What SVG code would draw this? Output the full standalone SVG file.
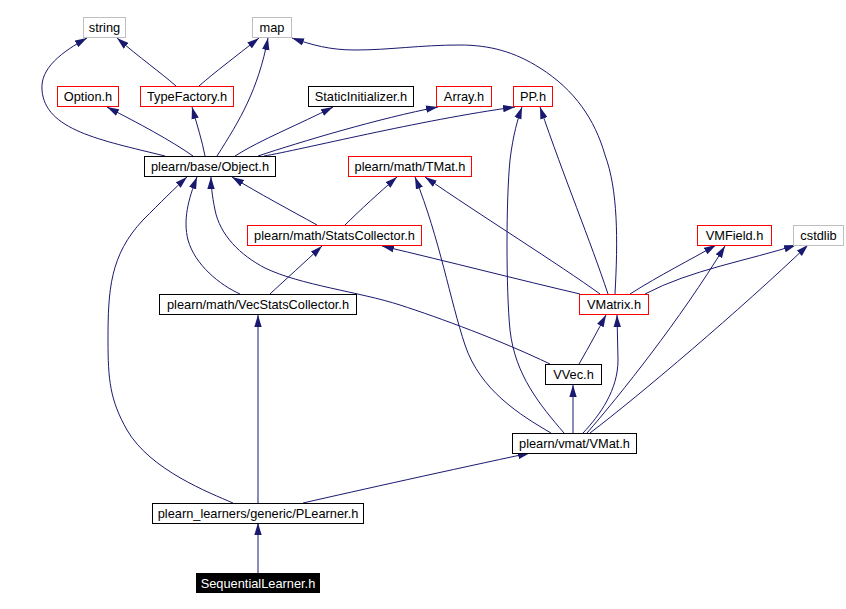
<svg xmlns="http://www.w3.org/2000/svg" width="846" height="609" viewBox="0 0 846 609">
<defs>
<style>
.n rect{fill:#fff;stroke-width:1}
.k rect{stroke:#000}
.r rect{stroke:#ff0000}
.g rect{stroke:#bfbfbf}
text{font-family:"Liberation Sans",Arial,Helvetica,sans-serif;font-size:12.8px;text-anchor:middle;fill:#000}
.e path{fill:none;stroke:#191970;stroke-width:1;marker-end:url(#a)}
</style>
<marker id="a" markerWidth="12" markerHeight="8" refX="12" refY="4" orient="auto" markerUnits="userSpaceOnUse"><path d="M0,0.3 L12,4 L0,7.7 z" fill="#191970"/></marker>
</defs>
<rect width="846" height="609" fill="#fff"/>
<g id="edges" class="e">
<path d="M165,156 C100,140 45,130 42,90 C40,68 62,52 87,38"/>
<path d="M176,86 C160,72 140,58 117,38"/>
<path d="M199,86 C215,72 235,57 259,38"/>
<path d="M217,156 C240,120 258,90 268,38"/>
<path d="M615,294 C618,240 618,190 605,155 C595,120 575,90 540,68 C515,52 490,45 460,45 C420,45 390,50 355,50 C330,50 312,45 292,38"/>
<path d="M193,156 C170,140 140,124 107,107"/>
<path d="M205,156 C202,140 197,125 192,107"/>
<path d="M235,156 C260,140 300,124 333,107"/>
<path d="M258,156 C300,142 380,118 438,107"/>
<path d="M264,156 C300,150 420,120 515,107"/>
<path d="M317,225 C290,210 258,193 232,177"/>
<path d="M345,225 C360,210 380,192 397,177"/>
<path d="M240,294 C220,285 195,265 188,240 C183,220 188,200 197,177"/>
<path d="M270,294 C285,280 305,262 322,246"/>
<path d="M550,364 C500,340 440,318 400,305 C360,292 300,285 265,268 C240,255 220,235 215,210 C212,195 211,185 211,177"/>
<path d="M233,503 C210,493 150,470 127,430 C110,400 108,380 108,340 C108,290 110,255 143,220 C160,203 175,188 187,177"/>
<path d="M258,503 L258,315"/>
<path d="M303,503 C360,490 450,470 530,453"/>
<path d="M258,573 L258,523"/>
<path d="M580,294 C520,280 450,262 382,246"/>
<path d="M600,294 C560,265 480,215 425,177"/>
<path d="M608,294 C590,240 565,180 540,107"/>
<path d="M630,294 C660,275 690,260 716,245"/>
<path d="M645,294 C690,270 750,260 796,245"/>
<path d="M579,364 C590,345 598,330 606,315"/>
<path d="M573,433 L573,385"/>
<path d="M583,433 C600,415 618,390 618,360 L617,315"/>
<path d="M587,433 C620,395 680,320 725,246"/>
<path d="M590,433 C640,395 740,310 808,245"/>
<path d="M551,433 C520,415 480,390 465,345 C450,300 440,240 415,177"/>
<path d="M564,433 C540,405 515,375 510,330 C506,290 506,200 510,160 C513,135 518,118 522,107"/>
</g>
<g id="string" class="n g"><rect x="83.5" y="17.5" width="42" height="20"/><text x="104.5" y="32">string</text></g>
<g id="map" class="n g"><rect x="252.5" y="17.5" width="39" height="20"/><text x="272" y="32">map</text></g>
<g id="option" class="n r"><rect x="57.5" y="86.5" width="61" height="20"/><text x="88" y="101">Option.h</text></g>
<g id="typefactory" class="n r"><rect x="140.5" y="86.5" width="93" height="20"/><text x="187" y="101">TypeFactory.h</text></g>
<g id="staticinit" class="n k"><rect x="308.5" y="86.5" width="105" height="20"/><text x="361" y="101">StaticInitializer.h</text></g>
<g id="array" class="n r"><rect x="436.5" y="86.5" width="55" height="20"/><text x="464" y="101">Array.h</text></g>
<g id="pp" class="n r"><rect x="513.5" y="86.5" width="39" height="20"/><text x="533" y="101">PP.h</text></g>
<g id="object" class="n k"><rect x="144.5" y="156.5" width="131" height="20"/><text x="210" y="171">plearn/base/Object.h</text></g>
<g id="tmat" class="n r"><rect x="348.5" y="156.5" width="123" height="20"/><text x="410" y="171">plearn/math/TMat.h</text></g>
<g id="statscollector" class="n r"><rect x="247.5" y="225.5" width="174" height="20"/><text x="334.5" y="240">plearn/math/StatsCollector.h</text></g>
<g id="vmfield" class="n r"><rect x="697.5" y="225.5" width="74" height="20"/><text x="734.5" y="240">VMField.h</text></g>
<g id="cstdlib" class="n g"><rect x="793.5" y="225.5" width="50" height="20"/><text x="818.5" y="240">cstdlib</text></g>
<g id="vecstats" class="n k"><rect x="159.5" y="294.5" width="197" height="20"/><text x="258" y="309">plearn/math/VecStatsCollector.h</text></g>
<g id="vmatrix" class="n r"><rect x="579.5" y="294.5" width="69" height="20"/><text x="614" y="309">VMatrix.h</text></g>
<g id="vvec" class="n k"><rect x="545.5" y="364.5" width="56" height="20"/><text x="573.5" y="379">VVec.h</text></g>
<g id="vmat" class="n k"><rect x="512.5" y="433.5" width="124" height="20"/><text x="574.5" y="448">plearn/vmat/VMat.h</text></g>
<g id="plearner" class="n k"><rect x="152.5" y="503.5" width="211" height="20"/><text x="258" y="518">plearn_learners/generic/PLearner.h</text></g>
<g id="sequential"><rect x="196" y="573" width="124" height="20" fill="#000"/><text x="258" y="588" style="fill:#fff">SequentialLearner.h</text></g>
</svg>
